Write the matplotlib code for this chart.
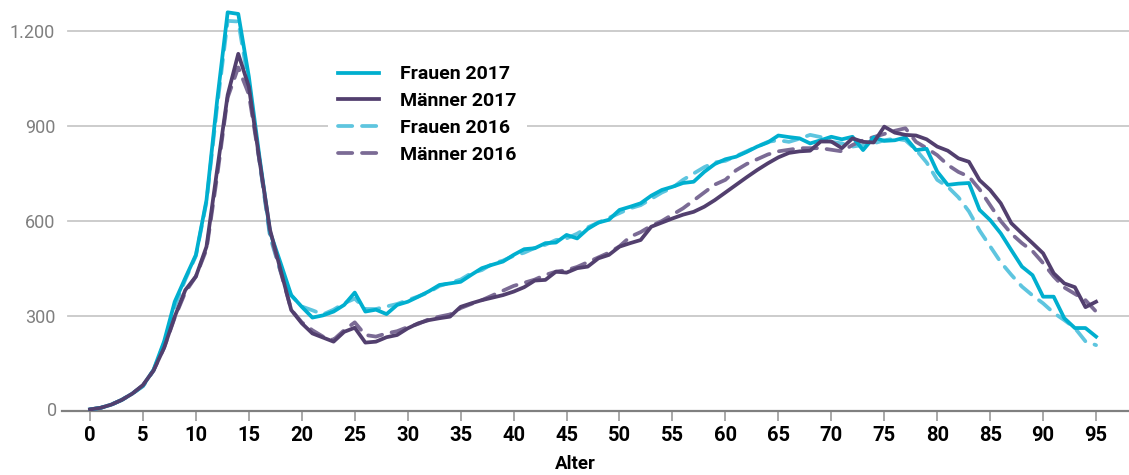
import matplotlib
matplotlib.use("Agg")
import matplotlib.pyplot as plt
from matplotlib import font_manager

ages = list(range(0, 96))

frauen_2017 = [5, 10, 20, 35, 55, 80, 130, 220, 345, 420, 493, 666, 979, 1259, 1254, 1056, 803, 565, 467, 366,
               329, 295, 302, 314, 335, 374, 314, 320, 306, 335, 345, 361, 378, 398, 403, 408, 430, 451, 462, 472,
               493, 511, 514, 530, 532, 556, 545, 575, 595, 604, 635, 645, 656, 680, 698, 708, 720, 724, 755, 780,
               795, 803, 818, 835, 848, 870, 865, 861, 845, 855, 866, 858, 866, 824, 864, 853, 855, 864, 824, 828,
               756, 714, 718, 720, 635, 603, 561, 508, 456, 429, 361, 361, 293, 262, 262, 235]
maenner_2017 = [5, 10, 20, 35, 55, 82, 128, 200, 298, 382, 425, 519, 760, 998, 1128, 1024, 793, 572, 445, 319,
                277, 245, 232, 219, 250, 263, 216, 219, 233, 240, 261, 277, 287, 293, 298, 329, 340, 350, 358, 366,
                377, 391, 412, 414, 440, 437, 451, 456, 482, 493, 519, 530, 540, 582, 595, 608, 620, 629, 645, 666,
                690, 714, 738, 761, 782, 801, 815, 820, 822, 851, 851, 830, 861, 850, 848, 898, 879, 872, 870, 858,
                835, 822, 798, 787, 729, 698, 656, 593, 561, 530, 498, 435, 403, 391, 328, 345]
frauen_2016 = [5, 10, 20, 35, 55, 78, 128, 215, 330, 415, 490, 660, 960, 1232, 1230, 1030, 790, 550, 440, 365,
               330, 318, 305, 320, 340, 355, 322, 322, 330, 338, 350, 362, 375, 395, 405, 415, 435, 445, 465, 475,
               490, 500, 515, 525, 540, 545, 560, 580, 595, 610, 625, 640, 650, 670, 690, 705, 730, 750, 770, 785,
               790, 805, 820, 835, 850, 855, 850, 860, 872, 865, 850, 845, 835, 840, 845, 855, 860, 855, 825, 785,
               730, 708, 675, 630, 570, 520, 470, 430, 393, 365, 340, 310, 287, 262, 220, 208]
maenner_2016 = [5, 10, 20, 35, 55, 80, 128, 200, 295, 375, 425, 510, 740, 990, 1085, 1000, 790, 560, 440, 320,
                280, 255, 235, 225, 255, 280, 240, 235, 245, 252, 265, 275, 290, 298, 305, 325, 338, 350, 365, 380,
                395, 405, 415, 430, 440, 445, 455, 470, 485, 500, 520, 550, 565, 585, 600, 620, 640, 665, 690, 715,
                730, 760, 780, 795, 810, 820, 825, 830, 830, 830, 825, 820, 840, 855, 865, 875, 885, 893, 850, 830,
                808, 777, 755, 740, 700, 650, 600, 560, 530, 505, 467, 425, 390, 370, 350, 314]

x_ticks = list(range(0, 96, 5))
y_ticks = [0, 300, 600, 900, 1200]
y_tick_labels = ["0", "300", "600", "900", "1.200"]
x_label = "Alter"
series_labels = ["Frauen 2017", "Männer 2017", "Frauen 2016", "Männer 2016"]

available = {f.name for f in font_manager.fontManager.ttflist}
fam = "Roboto" if "Roboto" in available else "DejaVu Sans"
plt.rcParams["font.family"] = [fam, "DejaVu Sans"]

W, H = 1129, 475
fig = plt.figure(figsize=(W / 100, H / 100), dpi=100)
ax = fig.add_axes([62 / W, (H - 411) / H, (W - 62) / W, 411 / H])

c_f17 = "#00AFCF"
c_m17 = "#523F6E"
c_f16 = "#5EC5DF"
c_m16 = "#7B6B95"

lw = 2.7
ax.plot(ages, frauen_2016, color=c_f16, lw=lw, dashes=(3.8, 2.6), label=series_labels[2], zorder=3, dash_capstyle="round")
ax.plot(ages, maenner_2016, color=c_m16, lw=lw, dashes=(3.8, 2.6), label=series_labels[3], zorder=3, dash_capstyle="round")
ax.plot(ages, frauen_2017, color=c_f17, lw=lw, label=series_labels[0], zorder=4)
ax.plot(ages, maenner_2017, color=c_m17, lw=lw, label=series_labels[1], zorder=5)

ax.set_xlim((62 - 90) / 10.59, (1129 - 90) / 10.59)
ax.set_ylim(0, 411 * 3.158)

ax.set_yticks(y_ticks[1:])
ax.set_yticklabels(y_tick_labels[1:])
for yv in y_ticks[1:]:
    ax.axhline(yv, xmin=6 / (W - 62), color="#C8C8C8", lw=1.3, zorder=1)
ax.text(-0.005, 0, y_tick_labels[0], transform=ax.get_yaxis_transform(), ha="right", va="center",
        color="#7F7F7F", fontsize=13)

ax.set_xticks(x_ticks)
ax.set_xticklabels([str(v) for v in x_ticks], fontweight="bold", fontsize=14.5)
ax.tick_params(axis="x", direction="out", length=7, width=1.2, color="#9A9A9A", pad=4)
ax.tick_params(axis="y", length=0, labelsize=13, labelcolor="#7F7F7F", pad=5)

for s in ["top", "right", "left"]:
    ax.spines[s].set_visible(False)
ax.spines["bottom"].set_color("#808080")
ax.spines["bottom"].set_linewidth(1.6)

ax.set_xlabel(x_label, fontweight="bold", fontsize=13.5)
ax.xaxis.label.set_va("center")
ax.xaxis.set_label_coords((575 - 62) / (W - 62), -(464 - 411) / 411)

handles, labels = ax.get_legend_handles_labels()
order = [labels.index(l) for l in series_labels]
leg = ax.legend([handles[i] for i in order], [labels[i] for i in order],
                loc="upper left", bbox_to_anchor=(318 / W, 1 - 45 / H), bbox_transform=fig.transFigure,
                frameon=True, facecolor="white", edgecolor="none", framealpha=1,
                prop={"weight": "bold", "size": 14}, handlelength=2.1, handletextpad=1.05,
                labelspacing=0.45, borderpad=0.55, fancybox=False)
leg.set_zorder(10)

fig.savefig("out.png", dpi=100)
